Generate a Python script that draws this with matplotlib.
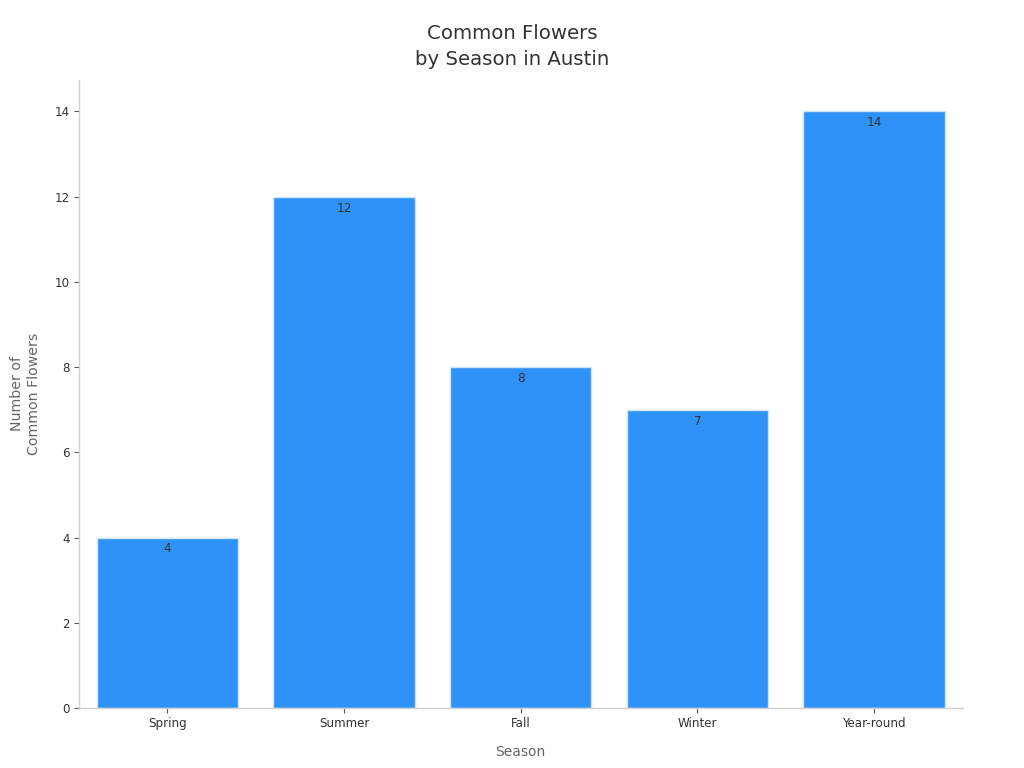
import matplotlib
matplotlib.use("Agg")
import matplotlib.pyplot as plt

seasons = ["Spring", "Summer", "Fall", "Winter", "Year-round"]
counts = [4, 12, 8, 7, 14]
yticks = [0, 2, 4, 6, 8, 10, 12, 14]

fig = plt.figure(figsize=(10.24, 7.68), dpi=100)
ax = fig.add_axes([0.077, 0.078, 0.863, 0.818])

bars = ax.bar(range(len(seasons)), counts, width=0.8, color="#2F92F8",
              edgecolor="#cfe3fb", linewidth=1)
for b, v in zip(bars, counts):
    ax.annotate(str(v), (b.get_x() + b.get_width() / 2, v), xytext=(0, -3.5),
                textcoords="offset points", ha="center", va="top",
                fontsize=8.7, color="#333333")

ax.set_xlim(-0.5, 4.5)
ax.set_ylim(0, 14.74)
ax.set_xticks(range(len(seasons)))
ax.set_xticklabels(seasons)
ax.set_yticks(yticks)
ax.tick_params(labelsize=8.6, colors="#333333", length=3.5, width=0.8, pad=3)
ax.tick_params(axis="both", color="#555555")

for s in ["top", "right"]:
    ax.spines[s].set_visible(False)
for s in ["left", "bottom"]:
    ax.spines[s].set_color("#d0d0d0")
    ax.spines[s].set_linewidth(1)

ax.set_xlabel("Season", fontsize=10, color="#666666", labelpad=11)
ax.set_ylabel("Number of\nCommon Flowers", fontsize=10.2, color="#666666", labelpad=10)
fig.suptitle("Common Flowers\nby Season in Austin", fontsize=14.2, color="#333333",
             x=0.5, y=0.9685, va="top", linespacing=1.45)

fig.savefig("out.png", dpi=100)
